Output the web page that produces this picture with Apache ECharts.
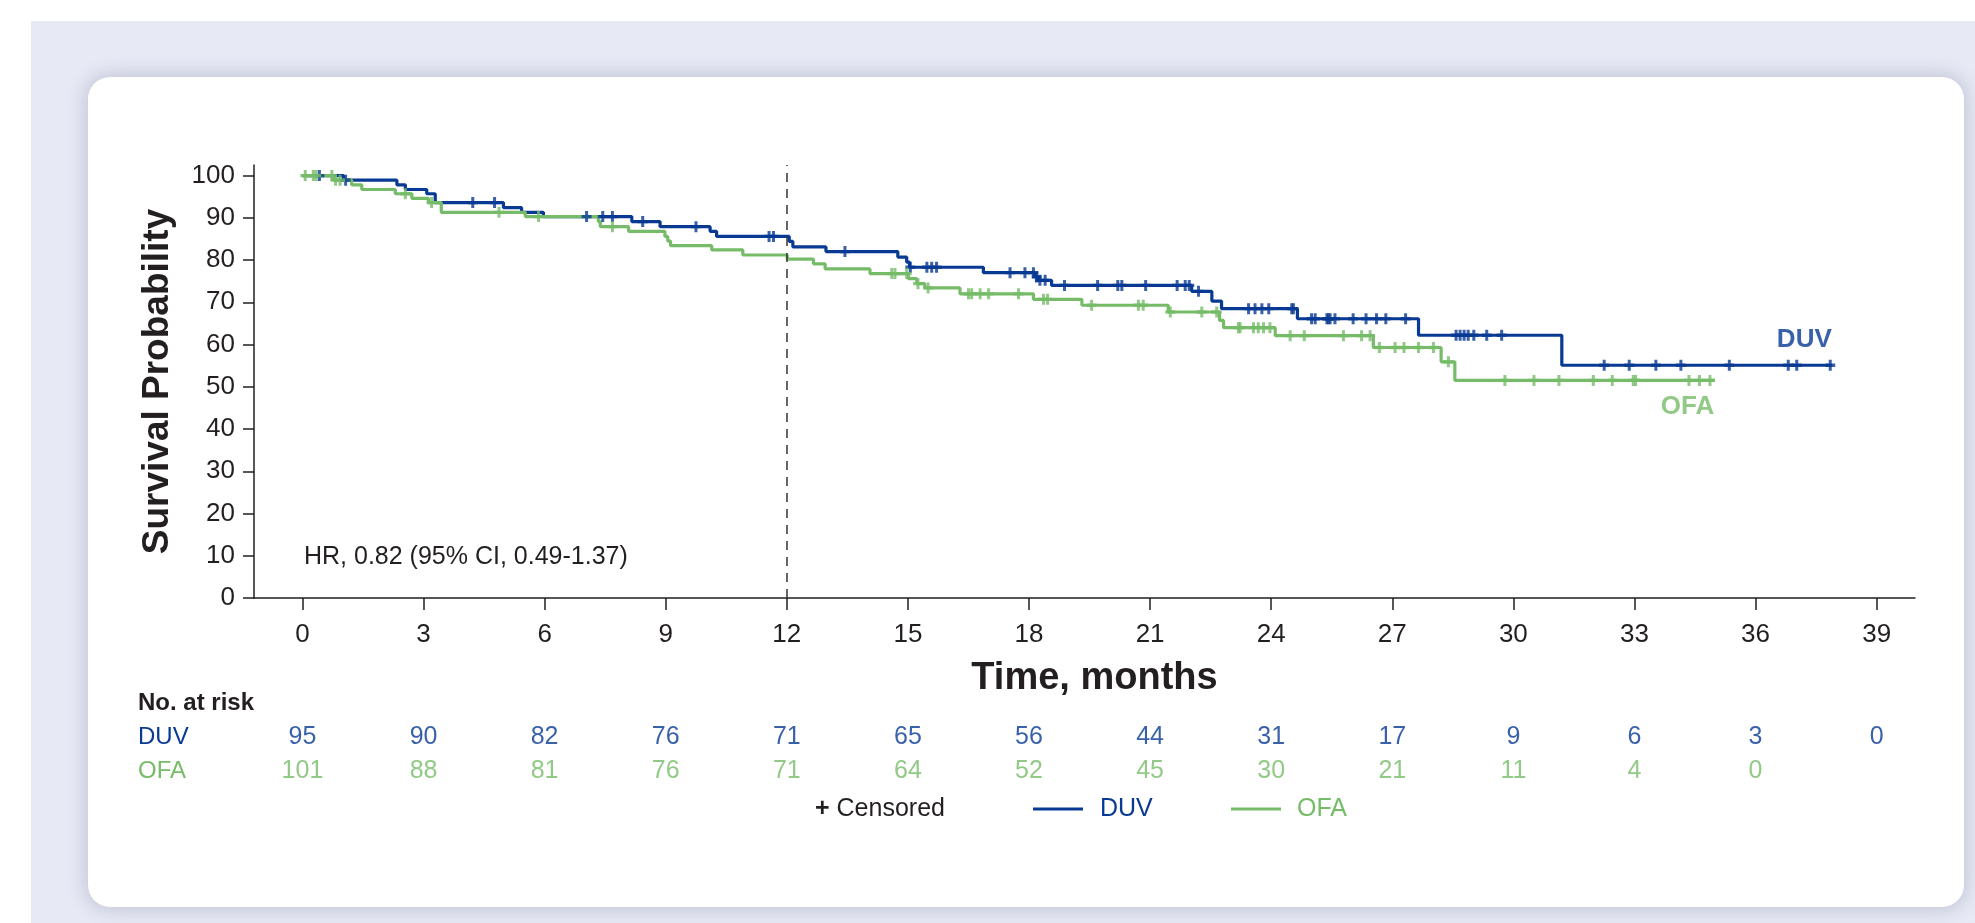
<!DOCTYPE html>
<html>
<head>
<meta charset="utf-8">
<script src="https://cdn.jsdelivr.net/npm/echarts@6/dist/echarts.min.js"></script>
<style>
  html, body { margin: 0; padding: 0; background: #ffffff; }
  #stage { position: relative; width: 1975px; height: 923px; overflow: hidden; background: #ffffff; }
  #panel { position: absolute; left: 31px; top: 21px; right: 0; bottom: 0; background: #e7e9f5; }
  #card { position: absolute; left: 88px; top: 77px; width: 1876px; height: 830px; background: #ffffff;
          border-radius: 22px; box-shadow: 0 0 18px 3px rgba(70, 75, 110, 0.22); }
  #chart { position: absolute; left: 0; top: 0; width: 1975px; height: 923px; }
</style>
</head>
<body>
<div id="stage">
  <div id="panel"></div>
  <div id="card"></div>
  <div id="chart"></div>
</div>
<script>
// Time axis ticks (months) and numbers at risk
const months = [0, 3, 6, 9, 12, 15, 18, 21, 24, 27, 30, 33, 36, 39];
const probTicks = [0, 10, 20, 30, 40, 50, 60, 70, 80, 90, 100];
const duvAtRisk = [95, 90, 82, 76, 71, 65, 56, 44, 31, 17, 9, 6, 3, 0];
const ofaAtRisk = [101, 88, 81, 76, 71, 64, 52, 45, 30, 21, 11, 4, 0];

// Kaplan-Meier steps: [month, survival %] from that month onward
const duvSteps = [
  [0, 100], [1.02, 98.9], [2.34, 97.8], [2.55, 96.7], [3.08, 95.7], [3.29, 93.6],
  [4.98, 92.4], [5.43, 91.3], [5.97, 90.3], [8.16, 89.1], [8.86, 87.9], [10.1, 86.8],
  [10.26, 85.6], [12.06, 84.4], [12.15, 83.1], [12.97, 82.0], [14.75, 80.7], [14.97, 79.5],
  [15.04, 78.3], [16.87, 77.0], [18.15, 76.0], [18.23, 75.2], [18.56, 74.0], [22.03, 72.6],
  [22.53, 70.3], [22.77, 68.5], [24.65, 66.1], [27.65, 62.2], [31.2, 55.1]
];
const duvLastFollowUp = 37.9;
const duvCensored = [
  0.42, 1.07, 4.22, 4.76, 7.04, 7.44, 7.68, 8.43, 9.75, 11.56, 11.67, 13.44, 15.06, 15.47,
  15.59, 15.71, 17.53, 17.9, 18.11, 18.19, 18.27, 18.4, 18.88, 19.7, 20.2, 20.3, 20.89,
  21.67, 21.87, 21.97, 22.2, 23.44, 23.6, 23.77, 23.94, 24.51, 24.55, 25.0, 25.09, 25.38,
  25.42, 25.46, 25.58, 26.03, 26.35, 26.61, 26.84, 27.33, 28.58, 28.68, 28.78, 28.88,
  29.02, 29.34, 29.71, 32.25, 32.87, 33.53, 34.15, 35.35, 36.81, 37.02, 37.85
];

const ofaSteps = [
  [0, 100], [0.77, 98.9], [1.22, 97.8], [1.47, 96.7], [2.3, 95.7], [2.71, 94.6],
  [3.12, 93.6], [3.44, 91.3], [5.52, 90.3], [7.33, 89.1], [7.38, 87.9], [8.08, 86.8],
  [8.98, 85.6], [9.05, 84.5], [9.12, 83.4], [10.14, 82.4], [10.91, 81.2], [12.01, 80.2],
  [12.66, 79.1], [12.95, 77.9], [14.06, 76.8], [15.01, 75.6], [15.22, 74.4], [15.42, 73.4],
  [16.29, 72.0], [18.11, 70.7], [19.31, 69.3], [21.45, 67.7], [22.72, 65.7], [22.82, 64.0],
  [24.1, 62.1], [26.53, 59.3], [28.21, 55.9], [28.55, 51.5]
];
const ofaLastFollowUp = 34.99;
const ofaCensored = [
  0.07, 0.27, 0.34, 0.73, 0.82, 0.93, 2.55, 3.2, 4.87, 5.85, 7.68, 14.6, 14.68, 14.97,
  15.25, 15.5, 16.5, 16.58, 16.79, 17.0, 17.74, 18.36, 18.46, 19.55, 20.71, 20.83, 21.5,
  22.28, 22.65, 23.19, 23.23, 23.56, 23.68, 23.81, 23.97, 24.47, 24.82, 25.79, 26.24,
  26.45, 26.68, 27.07, 27.29, 27.65, 28.02, 28.39, 29.79, 30.51, 31.13, 31.98, 32.45,
  32.97, 33.03, 34.35, 34.61, 34.87
];

const landmarkMonth = 12;
const hazardText = 'HR, 0.82 (95% CI, 0.49-1.37)';

const FONT = '"Liberation Sans", Arial, Helvetica, sans-serif';
const INK = '#231f20';
const BLUE = '#083a94';
const GREEN = '#76bc68';
const PLUS = 'path://M3.5,0H6.5V3.5H10V6.5H6.5V10H3.5V6.5H0V3.5H3.5Z';

function levelAt(steps, t) {
  let v = steps[0][1];
  for (const [s, y] of steps) { if (s <= t) v = y; else break; }
  return v;
}
function curve(steps, end) {
  return steps.concat([[end, steps[steps.length - 1][1]]]);
}
function marks(steps, times) {
  return times.map(t => [t, levelAt(steps, t)]);
}
function riskRow(arm, counts) {
  return counts.map((n, i) => [months[i], arm, n]);
}

const chart = echarts.init(document.getElementById('chart'), null, { renderer: 'canvas' });

const axisInk = { color: INK, width: 1.5 };

const option = {
  animation: false,
  backgroundColor: 'transparent',
  textStyle: { fontFamily: FONT },
  grid: [
    { left: 254, right: 60, top: 165, bottom: 325 },
    { left: 254, right: 60, top: 720, height: 68 }
  ],
  xAxis: [
    {
      type: 'value', gridIndex: 0, min: -1.2, max: 39.95,
      axisLine: { show: true, onZero: false, lineStyle: axisInk },
      axisTick: { show: true, length: 12, customValues: months, lineStyle: axisInk },
      axisLabel: { customValues: months, fontSize: 26, color: INK, margin: 24, fontFamily: FONT },
      splitLine: { show: false },
      name: 'Time, months', nameLocation: 'middle', nameGap: 62,
      nameTextStyle: { fontSize: 38, fontWeight: 'bold', color: INK, fontFamily: FONT, padding: [0, 0, 0, 20] }
    },
    { type: 'value', gridIndex: 1, min: -1.2, max: 39.95, show: false }
  ],
  yAxis: [
    {
      type: 'value', gridIndex: 0, min: 0, max: 102.5,
      axisLine: { show: true, onZero: false, lineStyle: axisInk },
      axisTick: { show: true, length: 11, customValues: probTicks, lineStyle: axisInk },
      axisLabel: { customValues: probTicks, fontSize: 26, color: INK, margin: 19, fontFamily: FONT },
      splitLine: { show: false },
      name: 'Survival Probability', nameLocation: 'middle', nameGap: 78,
      nameTextStyle: { fontSize: 37, fontWeight: 'bold', color: INK, fontFamily: FONT }
    },
    {
      type: 'category', gridIndex: 1, data: ['OFA', 'DUV'],
      axisLine: { show: false }, axisTick: { show: false }, splitLine: { show: false },
      axisLabel: {
        fontSize: 24, margin: 116, align: 'left', fontFamily: FONT,
        color: v => (v === 'DUV' ? BLUE : GREEN)
      }
    }
  ],
  series: [
    {
      name: 'DUV', type: 'line', step: 'end', xAxisIndex: 0, yAxisIndex: 0,
      data: curve(duvSteps, duvLastFollowUp), symbol: 'none', silent: true, z: 3,
      lineStyle: { color: BLUE, width: 3.2 },
      markLine: {
        silent: true, symbol: 'none', label: { show: false },
        lineStyle: { type: [9, 7], color: '#333333', width: 1.5 },
        data: [{ xAxis: landmarkMonth }]
      }
    },
    {
      name: 'OFA', type: 'line', step: 'end', xAxisIndex: 0, yAxisIndex: 0,
      data: curve(ofaSteps, ofaLastFollowUp), symbol: 'none', silent: true, z: 4,
      lineStyle: { color: GREEN, width: 3.2 }
    },
    {
      name: 'DUV censored', type: 'scatter', xAxisIndex: 0, yAxisIndex: 0, z: 5,
      data: marks(duvSteps, duvCensored), symbol: PLUS, symbolSize: [10, 11], silent: true,
      itemStyle: { color: BLUE }
    },
    {
      name: 'OFA censored', type: 'scatter', xAxisIndex: 0, yAxisIndex: 0, z: 6,
      data: marks(ofaSteps, ofaCensored), symbol: PLUS, symbolSize: [10, 11], silent: true,
      itemStyle: { color: GREEN }
    },
    {
      name: 'curve names', type: 'scatter', xAxisIndex: 0, yAxisIndex: 0, z: 7, silent: true,
      symbolSize: 1, itemStyle: { color: 'transparent' },
      data: [
        {
          value: [duvLastFollowUp, duvSteps[duvSteps.length - 1][1]],
          label: { show: true, formatter: 'DUV', position: [0, 0], align: 'right', verticalAlign: 'bottom',
                   offset: [0, -12], color: BLUE, fontSize: 26, fontWeight: 'bold', fontFamily: FONT }
        },
        {
          value: [ofaLastFollowUp, ofaSteps[ofaSteps.length - 1][1]],
          label: { show: true, formatter: 'OFA', position: [0, 0], align: 'right', verticalAlign: 'top',
                   offset: [0, 14], color: GREEN, fontSize: 26, fontWeight: 'bold', fontFamily: FONT }
        }
      ]
    },
    {
      name: 'DUV at risk', type: 'scatter', xAxisIndex: 1, yAxisIndex: 1, silent: true,
      data: riskRow('DUV', duvAtRisk), symbolSize: 1, itemStyle: { color: 'transparent' },
      encode: { x: 0, y: 1 },
      label: { show: true, position: 'inside', formatter: p => p.value[2], fontSize: 25, color: BLUE, fontFamily: FONT }
    },
    {
      name: 'OFA at risk', type: 'scatter', xAxisIndex: 1, yAxisIndex: 1, silent: true,
      data: riskRow('OFA', ofaAtRisk), symbolSize: 1, itemStyle: { color: 'transparent' },
      encode: { x: 0, y: 1 },
      label: { show: true, position: 'inside', formatter: p => p.value[2], fontSize: 25, color: GREEN, fontFamily: FONT }
    }
  ],
  graphic: [
    { type: 'text', x: 304, y: 557, silent: true,
      style: { text: hazardText, font: '25px ' + FONT, fill: INK, verticalAlign: 'middle' } },
    { type: 'text', x: 138, y: 703, silent: true,
      style: { text: 'No. at risk', font: 'bold 24px ' + FONT, fill: INK, verticalAlign: 'middle' } },
    { type: 'text', x: 815, y: 809, silent: true,
      style: {
        text: '{p|+} Censored', font: '25px ' + FONT, fill: INK, verticalAlign: 'middle',
        rich: { p: { fontWeight: 'bold', fontSize: 25, fontFamily: FONT, fill: INK } }
      } },
    { type: 'line', silent: true, shape: { x1: 1033, y1: 809, x2: 1083, y2: 809 },
      style: { stroke: BLUE, lineWidth: 3 } },
    { type: 'text', x: 1100, y: 809, silent: true,
      style: { text: 'DUV', font: '25px ' + FONT, fill: BLUE, verticalAlign: 'middle' } },
    { type: 'line', silent: true, shape: { x1: 1231, y1: 809, x2: 1281, y2: 809 },
      style: { stroke: GREEN, lineWidth: 3 } },
    { type: 'text', x: 1297, y: 809, silent: true,
      style: { text: 'OFA', font: '25px ' + FONT, fill: GREEN, verticalAlign: 'middle' } }
  ]
};

chart.setOption(option);
</script>
</body>
</html>
